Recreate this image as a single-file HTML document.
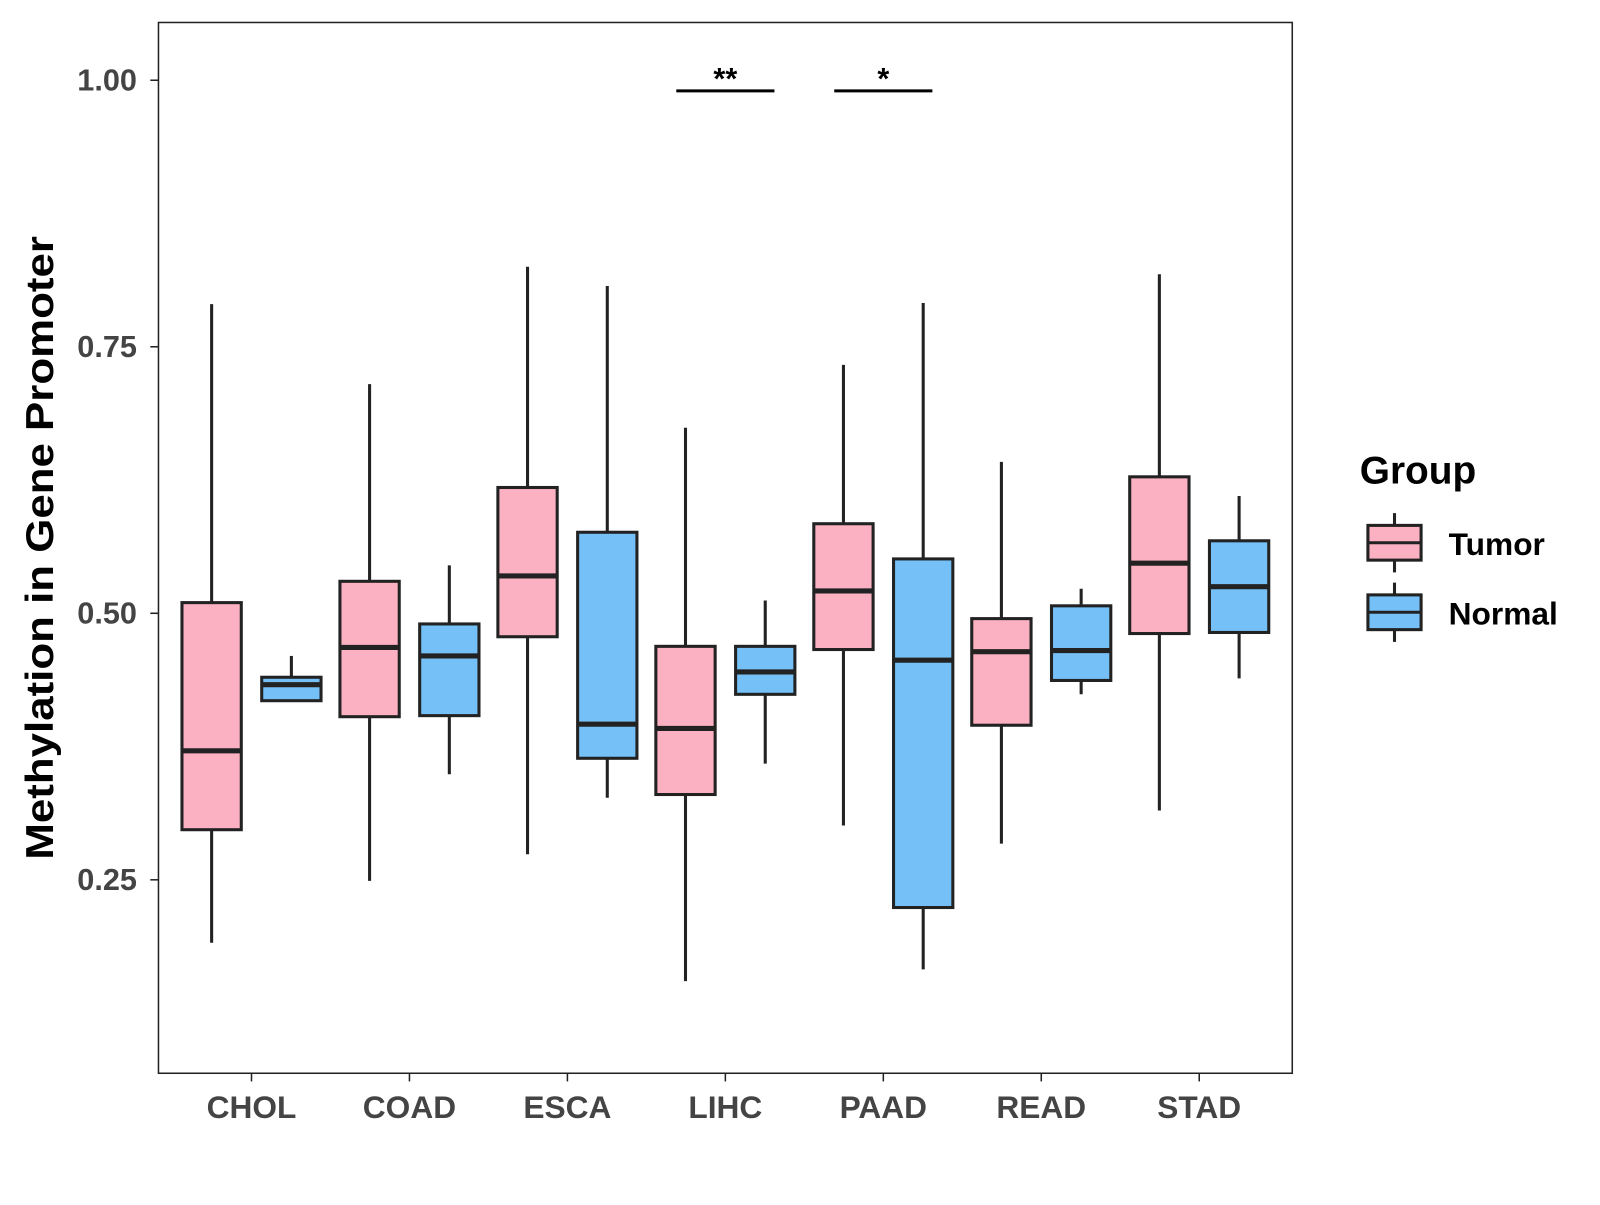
<!DOCTYPE html>
<html><head><meta charset="utf-8"><style>
body{margin:0;background:#fff}
text{font-family:"Liberation Sans",Arial,sans-serif;font-weight:bold}
</style></head><body>
<svg id="chart" width="1600" height="1200" viewBox="0 0 1565 1174" preserveAspectRatio="none" xmlns="http://www.w3.org/2000/svg">
<rect x="0" y="0" width="1565" height="1174" fill="#fff"/>
<rect x="155" y="22" width="1109" height="1028" fill="none" stroke="#222" stroke-width="1.5"/>
<g id="marks"></g>
<text transform="translate(52,536) rotate(-90)" text-anchor="middle" font-size="38" textLength="610" lengthAdjust="spacingAndGlyphs" fill="#000">Methylation in Gene Promoter</text>
<g>
<text x="1330" y="473" font-size="38" fill="#000">Group</text>
<line x1="1364" y1="502" x2="1364" y2="560" stroke="#222" stroke-width="3"/>
<rect x="1338" y="514" width="52" height="34" fill="#FBB1C2" stroke="#222" stroke-width="3"/>
<line x1="1338" y1="531" x2="1390" y2="531" stroke="#222" stroke-width="3"/>
<text x="1417" y="543" font-size="31" fill="#000">Tumor</text>
<line x1="1364" y1="570" x2="1364" y2="628" stroke="#222" stroke-width="3"/>
<rect x="1338" y="582" width="52" height="34" fill="#74C0F7" stroke="#222" stroke-width="3"/>
<line x1="1338" y1="599" x2="1390" y2="599" stroke="#222" stroke-width="3"/>
<text x="1417" y="611" font-size="31" fill="#000">Normal</text>
</g>
</svg>
<script>
const categories=["CHOL","COAD","ESCA","LIHC","PAAD","READ","STAD"];
// [low, q1, median, q3, high]
const tumorStats=[[0.191,0.297,0.371,0.510,0.790],[0.249,0.403,0.468,0.530,0.715],[0.274,0.478,0.535,0.618,0.825],[0.155,0.330,0.392,0.469,0.674],[0.301,0.466,0.521,0.584,0.733],[0.284,0.395,0.464,0.495,0.642],[0.315,0.481,0.547,0.628,0.818]];
const normalStats=[[0.418,0.418,0.433,0.440,0.460],[0.349,0.404,0.460,0.490,0.545],[0.327,0.364,0.396,0.576,0.807],[0.359,0.424,0.445,0.469,0.512],[0.166,0.224,0.456,0.551,0.791],[0.424,0.437,0.465,0.507,0.523],[0.439,0.482,0.525,0.568,0.610]];
const yTicks=[0.25,0.50,0.75,1.00];
const yTickLabels=["0.25","0.50","0.75","1.00"];
const sigCategories=["LIHC","PAAD"];
const sigLabels=["**","*"];
const sigLevel=0.99;

const NS="http://www.w3.org/2000/svg";
const y=v=>600-(v-0.5)*1043;
const x=i=>246+i*154.5;
const g=document.getElementById('marks');
function mk(tag,attrs){const e=document.createElementNS(NS,tag);for(const k in attrs)e.setAttribute(k,attrs[k]);g.appendChild(e);return e;}
yTicks.forEach((t,i)=>{
 const l=mk('line',{x1:147,x2:155,y1:y(t),y2:y(t),stroke:'#222','stroke-width':1.5});
 
 
 const tx=mk('text',{x:134,y:y(t)+10,'text-anchor':'end','font-size':30,fill:'#444'});
 tx.textContent=yTickLabels[i];
 
 
});
categories.forEach((c,i)=>{
 const l=mk('line',{x1:x(i),x2:x(i),y1:1050,y2:1058,stroke:'#222','stroke-width':1.5});
 
 
 const tx=mk('text',{x:x(i),y:1094,'text-anchor':'middle','font-size':31,fill:'#444'});
 tx.textContent=c;
 
 
 [[tumorStats[i],-39,'#FBB1C2','tumor'],[normalStats[i],39,'#74C0F7','normal']].forEach(([s,off,col,nm])=>{
  const cx=x(i)+off;
  const w=mk('line',{x1:cx,x2:cx,y1:y(s[0]),y2:y(s[4]),stroke:'#222','stroke-width':3});
  
  
  const r=mk('rect',{x:cx-29,y:y(s[3]),width:58,height:y(s[1])-y(s[3]),fill:col,stroke:'#222','stroke-width':3});
  
  
  const m=mk('line',{x1:cx-29,x2:cx+29,y1:y(s[2]),y2:y(s[2]),stroke:'#222','stroke-width':5});
  
  
 });
});
sigCategories.forEach((c,j)=>{
 const i=categories.indexOf(c);
 const l=mk('line',{x1:x(i)-48,x2:x(i)+48,y1:y(sigLevel),y2:y(sigLevel),stroke:'#000','stroke-width':3});
 
 
 const t=mk('text',{x:x(i),y:y(sigLevel)-2,'text-anchor':'middle','font-size':30,fill:'#000'});
 t.textContent=sigLabels[j];
 
 
});
</script>
</body></html>
